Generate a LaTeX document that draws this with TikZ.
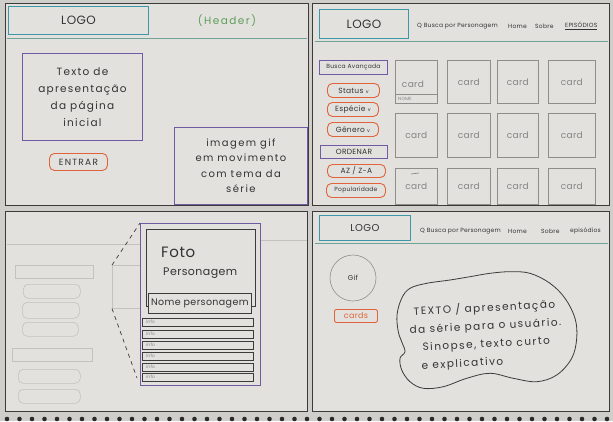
\documentclass[tikz,border=0pt]{standalone}
\usepackage{fontspec}
\setmainfont{Poppins}[LetterSpace=4]
\definecolor{bgc}{HTML}{CFCECB}
\definecolor{panelc}{HTML}{E2E1DE}
\definecolor{framec}{HTML}{3C3B3A}
\definecolor{inkc}{HTML}{333333}
\definecolor{tealc}{HTML}{3E97A8}
\definecolor{hlinec}{HTML}{6FA39A}
\definecolor{hgreen}{HTML}{5E9E58}
\definecolor{purpc}{HTML}{6E5BA3}
\definecolor{orngc}{HTML}{E0633A}
\definecolor{cardc}{HTML}{8E8D8A}
\definecolor{cardtxt}{HTML}{858483}
\definecolor{faintc}{HTML}{C3C2BF}
\definecolor{dotc}{HTML}{2A2A2A}
\tikzset{
  fs/.style={font=\fontsize{#1}{#1}\selectfont},
  wide/.style={font=\fontsize{#1}{#1}\selectfont\addfontfeature{LetterSpace=14}},
  panel/.style={draw=framec, line width=1pt, fill=panelc, anchor=north west, inner sep=0pt},
  box/.style={anchor=north west, inner sep=0pt, text=inkc},
  logobox/.style={box, draw=tealc, line width=1pt},
  purpbox/.style={box, draw=purpc, line width=0.9pt},
  orbtn/.style={box, draw=orngc, line width=0.9pt, rounded corners=5pt},
  cardbox/.style={box, draw=cardc, line width=0.6pt, text=cardtxt},
  faintbox/.style={box, draw=faintc, line width=0.6pt},
  faintpill/.style={faintbox, rounded corners=5pt},
  infobox/.style={box, draw=framec, line width=0.8pt, fill=panelc},
  hline/.style={draw=hlinec, line width=0.8pt},
  navtxt/.style={anchor=west, inner sep=0pt, text=inkc, fs=6},
  blobtext/.style={anchor=west, inner sep=0pt, rotate=3, text=inkc, align=left,
    font=\fontsize{10.5}{18}\selectfont\addfontfeature{LetterSpace=14}},
}
\begin{document}
\begin{tikzpicture}[x=1pt,y=-1pt]
\useasboundingbox (0,0) rectangle (613,421);
\fill[bgc] (0,0) rectangle (613,421);

% four sheets
\node[panel, minimum width=303, minimum height=202] (p1) at (5,3) {};
\node[panel, minimum width=297, minimum height=202] (p2) at (312,3) {};
\node[panel, minimum width=302, minimum height=200] (p3) at (5,211) {};
\node[panel, minimum width=297, minimum height=200] (p4) at (312,211) {};

% ---------- home page ----------
\coordinate (h1a) at (7,38); \coordinate (h1b) at (307,38);
\draw[hline] (h1a) -- (h1b);
\node[logobox, minimum width=140, minimum height=28, fs=12] (logo1) at (8,6) {LOGO};
\node[text=hgreen, wide=10.5] (hdr1) at (227,21) {(Header)};
\node[purpbox, minimum width=120, minimum height=87, align=center,
      font=\fontsize{10.5}{17}\selectfont\addfontfeature{LetterSpace=12}] (intro) at (22,53)
      {Texto de\\apresentação\\da página\\inicial};
\node[orbtn, minimum width=58, minimum height=17, wide=9] (entrar) at (49,153) {ENTRAR};
\node[purpbox, minimum width=133, minimum height=77, align=center,
      font=\fontsize{10}{15.5}\selectfont\addfontfeature{LetterSpace=14}] (gif1) at (174,127)
      {imagem gif\\em movimento\\com tema da\\série};

% ---------- character list ----------
\coordinate (h2a) at (315,41); \coordinate (h2b) at (608,41);
\draw[hline] (h2a) -- (h2b);
\node[logobox, minimum width=89, minimum height=29, fs=12] (logo2) at (319,9) {LOGO};
\node[navtxt] (nav2a) at (417,26) {Q Busca por Personagem};
\node[navtxt] (nav2b) at (508,26) {Home};
\node[navtxt] (nav2c) at (535,26) {Sobre};
\node[navtxt] (nav2d) at (565,26) {\underline{EPISÓDIOS}};

\node[purpbox, minimum width=68, minimum height=14, fs=6] (busca) at (319,60) {Busca Avançada};
\node[orbtn, minimum width=52, minimum height=14, fs=7.5] (status) at (327,83) {Status {\fontsize{5}{5}\selectfont v}};
\node[orbtn, minimum width=51, minimum height=14, fs=7.5] (especie) at (327,102) {Espécie {\fontsize{5}{5}\selectfont v}};
\node[orbtn, minimum width=51, minimum height=14, fs=7.5] (genero) at (327,122) {Gênero {\fontsize{5}{5}\selectfont v}};
\node[purpbox, minimum width=67, minimum height=13, fs=7.5] (ordenar) at (320,145) {ORDENAR};
\node[orbtn, minimum width=58, minimum height=13, fs=7.5] (az) at (327,164) {AZ / Z-A};
\node[orbtn, minimum width=59, minimum height=14, fs=6] (popular) at (326,183) {Popularidade};

% card grid
\node[cardbox, minimum width=42, minimum height=43] (c11) at (395,60) {};
\node[text=cardtxt, fs=9] (c11t) at (413,84) {card};
\coordinate (n1a) at (395,94); \coordinate (n1b) at (437,94);
\draw[cardc, line width=0.6pt] (n1a) -- (n1b);
\node[text=cardtxt, fs=4.5, anchor=west, inner sep=0pt] (c11n) at (398,99) {NOME};
\foreach \cx/\cw/\c in {447/43/2, 497/41/3, 548/47/4}
  \node[cardbox, minimum width=\cw, minimum height=43, fs=9] (c1\c) at (\cx,60) {card};
\foreach \cx/\cw/\c in {395/42/1, 447/43/2, 497/41/3, 548/47/4}{
  \node[cardbox, minimum width=\cw, minimum height=44, fs=9] (c2\c) at (\cx,113) {card};
  \node[cardbox, minimum width=\cw, minimum height=36, fs=9] (c3\c) at (\cx,168) {card};
}
\coordinate (d1) at (411,174); \coordinate (d2) at (419,173);
\draw[cardc, line width=0.7pt] (d1) -- (d2);

% ---------- character detail ----------
\coordinate (h3a) at (7,244); \coordinate (h3b) at (140,244);
\coordinate (h3c) at (260,240); \coordinate (h3d) at (307,240);
\draw[faintc, line width=0.6pt] (h3a) -- (h3b);
\draw[faintc, line width=0.6pt] (h3c) -- (h3d);
\node[faintbox, minimum width=78, minimum height=13] (f1) at (15,265) {};
\node[faintpill, minimum width=57, minimum height=14] (f2) at (23,284) {};
\node[faintpill, minimum width=57, minimum height=16] (f3) at (22,302) {};
\node[faintpill, minimum width=56, minimum height=14] (f4) at (22,322) {};
\node[faintbox, minimum width=80, minimum height=13] (f5) at (12,348) {};
\node[faintpill, minimum width=62, minimum height=14] (f6) at (18,369) {};
\node[faintpill, minimum width=62, minimum height=14] (f7) at (18,389) {};
\node[faintbox, minimum width=40, minimum height=43] (fcard) at (112,265) {};

\node[box, draw=purpc, line width=0.9pt, fill=panelc, minimum width=120, minimum height=162] (big) at (140,223) {};
\coordinate (z1) at (137,378);
\draw[framec, line width=0.7pt, dash pattern=on 4pt off 4pt] (fcard.north west) -- (big.north west);
\draw[framec, line width=0.7pt, dash pattern=on 4pt off 4pt] (fcard.south west) -- (z1);
\node[box, draw=framec, line width=0.8pt, minimum width=109, minimum height=77] (foto) at (146,229) {};
\node[anchor=west, inner sep=0pt, text=inkc, fs=15] (fototxt) at (161,252) {Foto};
\node[anchor=west, inner sep=0pt, text=inkc, fs=11] (perstxt) at (163,273) {Personagem};
\node[infobox, minimum width=103, minimum height=20, fs=9.5] (nome) at (148,293) {Nome personagem};
\foreach \iy/\k in {318/1, 330/2, 341/3, 352/4, 363/5, 373/6}{
  \node[infobox, minimum width=111, minimum height=8] (info\k) at (142,\iy) {};
  \node[anchor=west, inner sep=0pt, text=cardtxt, fs=4.5] (info\k t) at (146,\iy+4) {info};
}

% ---------- about page ----------
\coordinate (h4a) at (315,243); \coordinate (h4b) at (608,243);
\draw[hline] (h4a) -- (h4b);
\node[logobox, minimum width=91, minimum height=25, fs=10] (logo4) at (319,215) {LOGO};
\node[navtxt] (nav4a) at (420,231) {Q Busca por Personagem};
\node[navtxt] (nav4b) at (508,231) {Home};
\node[navtxt] (nav4c) at (541,231) {Sobre};
\node[navtxt] (nav4d) at (570,231) {episódios};

\node[circle, draw=cardc, line width=0.6pt, minimum size=46, inner sep=0pt, text=inkc, fs=7] (gifc) at (353,278) {Gif};
\node[box, draw=orngc, line width=0.9pt, rounded corners=2pt, minimum width=43, minimum height=13, text=orngc, fs=8] (cards) at (334,309) {cards};

\draw[framec, line width=0.8pt] plot[smooth cycle, tension=0.6] coordinates {
  (397,315) (401.7,298.3) (410,288.3) (426.7,283.3) (450,280) (470,276.7)
  (490,273.3) (510,271.7) (530,273.3) (550,283.3) (565,298.3) (575,318.3)
  (576.7,338.3) (571.7,358.3) (556.7,375) (536.7,381.7) (513.3,378.3)
  (490,373.3) (466.7,378.3) (443.3,386.7) (423.3,388.3) (410,381.7)
  (401.7,370) (400,358.3) (405,351.7) (401.7,341.7) (398.3,331.7)};
\node[blobtext] (blobtxt) at (410,339)
  {\hspace*{5pt}TEXTO / apresentação\\
   da série para o usuário.\\
   \hspace*{12pt}Sinopse, texto curto\\
   \hspace*{10pt}e explicativo};

% spiral binding
\foreach \i in {0,...,48}
  \fill[dotc] ({7+\i*12.5},419) circle (2.3);
\end{tikzpicture}
\end{document}
